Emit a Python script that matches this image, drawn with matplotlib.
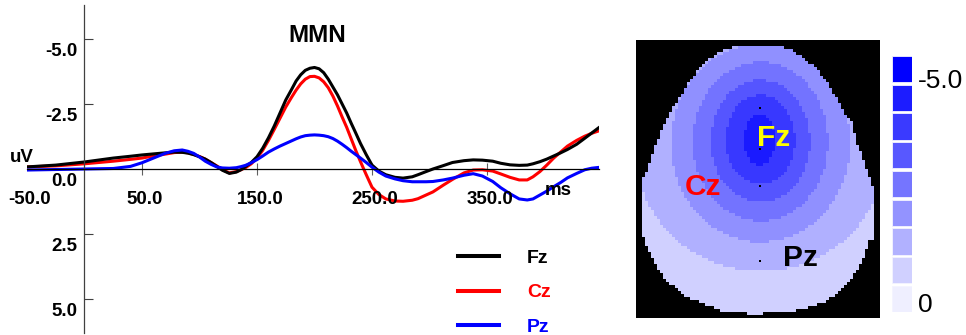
import numpy as np
import matplotlib
matplotlib.use("Agg")
import matplotlib.pyplot as plt
from matplotlib.path import Path
from matplotlib.colors import ListedColormap

plt.rcParams['font.family'] = ['Liberation Sans', 'DejaVu Sans']

# ---- ERP waveforms (uV, negative plotted up) ----
time_ms = [-50, -25, 0, 25, 40, 50, 60, 70, 78, 85, 90, 95, 100, 105, 110, 115,
           120, 126, 132, 136, 140, 145, 150, 155, 160, 165, 170, 175, 180, 184,
           188, 192, 196, 200, 204, 208, 212, 216, 220, 224, 228, 232, 236, 240,
           245, 250, 256, 262, 270, 277, 285, 290, 297, 303, 312, 320, 330, 338,
           346, 355, 362, 370, 378, 385, 390, 396, 402, 408, 414, 420, 428, 435,
           441, 447]
fz = [-0.08, -0.15, -0.27, -0.42, -0.49, -0.54, -0.58, -0.62, -0.65, -0.64, -0.61,
      -0.55, -0.47, -0.38, -0.25, -0.10, 0.05, 0.17, 0.12, 0.03, -0.09, -0.25,
      -0.47, -0.80, -1.20, -1.65, -2.15, -2.65, -3.05, -3.38, -3.62, -3.79, -3.87,
      -3.90, -3.85, -3.70, -3.45, -3.15, -2.85, -2.50, -2.15, -1.75, -1.37, -0.98,
      -0.55, -0.15, 0.08, 0.22, 0.32, 0.35, 0.30, 0.22, 0.10, 0.00, -0.13, -0.25,
      -0.32, -0.35, -0.34, -0.30, -0.22, -0.16, -0.14, -0.15, -0.20, -0.28, -0.38,
      -0.50, -0.62, -0.75, -0.95, -1.18, -1.38, -1.58]
cz = [-0.08, -0.12, -0.20, -0.30, -0.37, -0.42, -0.50, -0.57, -0.63, -0.65, -0.62,
      -0.56, -0.48, -0.38, -0.25, -0.12, 0.03, 0.15, 0.10, 0.03, -0.05, -0.20,
      -0.42, -0.72, -1.10, -1.52, -1.95, -2.38, -2.75, -3.03, -3.27, -3.45, -3.55,
      -3.56, -3.50, -3.35, -3.12, -2.80, -2.42, -2.00, -1.60, -1.15, -0.70, -0.28,
      0.22, 0.70, 0.98, 1.15, 1.23, 1.24, 1.20, 1.14, 1.00, 0.88, 0.62, 0.40,
      0.15, 0.04, 0.03, 0.08, 0.19, 0.32, 0.42, 0.42, 0.30, 0.10, -0.15,
      -0.42, -0.65, -0.88, -1.10, -1.26, -1.37, -1.46]
pz = [0.04, 0.02, 0.00, -0.02, -0.10, -0.24, -0.42, -0.60, -0.70, -0.73, -0.68,
      -0.60, -0.46, -0.30, -0.18, -0.08, -0.04, -0.03, -0.05, -0.09, -0.14, -0.24,
      -0.36, -0.50, -0.65, -0.77, -0.88, -0.98, -1.08, -1.16, -1.23, -1.28, -1.30,
      -1.31, -1.30, -1.28, -1.24, -1.17, -1.07, -0.95, -0.82, -0.68, -0.55, -0.42,
      -0.25, -0.07, 0.12, 0.27, 0.38, 0.45, 0.49, 0.49, 0.49, 0.48, 0.42, 0.35,
      0.24, 0.18, 0.27, 0.48, 0.72, 0.95, 1.15, 1.19, 1.15, 1.00, 0.85,
      0.68, 0.52, 0.34, 0.17, 0.03, -0.03, -0.06]
channels = ['Fz', 'Cz', 'Pz']
channel_colors = ['black', 'red', 'blue']

y_ticks = [-5.0, -2.5, 0.0, 2.5, 5.0]
y_labels = ['-5.0', '-2.5', '0.0', '2.5', '5.0']
x_ticks = [-50.0, 50.0, 150.0, 250.0, 350.0]
x_labels = ['-50.0', '50.0', '150.0', '250.0', '350.0']

# ---- scalp map (image pixel frame of the map panel) ----
head_x = [738, 777, 788, 795, 805, 815, 825, 832, 838, 843, 850, 855, 862, 867,
          872, 872, 868, 865, 860, 855, 848, 838, 825, 808, 792, 757, 723, 713,
          699, 686, 673, 663, 656, 649, 644, 642, 642, 644, 648, 649, 653, 658,
          661, 666, 672, 678, 683, 689, 698, 706, 718]
head_y = [46, 46, 49, 53, 60, 68, 80, 92, 102, 112, 120, 140, 157, 175,
          190, 240, 242, 253, 263, 273, 283, 293, 302, 308, 312, 315, 313, 308,
          303, 297, 287, 277, 267, 253, 240, 237, 190, 175, 170, 163, 153, 140,
          130, 120, 110, 100, 92, 82, 70, 62, 52]
# nested iso-potential rings, innermost first
ring_cx = [759, 760, 760, 760, 760, 760]
ring_cy = [140, 140, 141.5, 142, 143.5, 150]
ring_rx = [15, 34, 49, 67, 89, 125]
ring_ry = [25, 45, 61.5, 80, 99.5, 122]
map_colors = ['#1a1aff', '#3838ff', '#5555ff', '#7373ff', '#9090ff', '#b0b0ff', '#d0d0ff']

electrode_x = [760, 760, 760, 760]
electrode_y = [108, 149, 186, 261]
site_names = ['Fz', 'Cz', 'Pz']
site_x = [757, 685, 783]
site_y = [138, 187, 258]
site_colors = ['#ffff00', '#ff0000', 'black']

cbar_colors = ['#0000ff', '#1c1cff', '#3a3aff', '#5858ff', '#7575ff',
               '#9393ff', '#b1b1ff', '#d0d0ff', '#efefff']
cbar_labels = ['-5.0', '0']
cbar_label_index = [0, 8]

W, H = 966, 335
fig = plt.figure(figsize=(W / 100, H / 100), dpi=100)


def px_axes(x0, y0, x1, y1):
    return fig.add_axes([x0 / W, 1 - y1 / H, (x1 - x0) / W, (y1 - y0) / H])


# ---------------- ERP panel ----------------
ax = px_axes(27, 5, 599, 333)
series = {'Fz': fz, 'Cz': cz, 'Pz': pz}
handles = {}
for name in ['Cz', 'Fz', 'Pz']:
    c = channel_colors[channels.index(name)]
    handles[name], = ax.plot(time_ms, series[name], color=c, lw=2.2,
                             solid_joinstyle='round')
ax.set_xlim(-50, 447.4)
ax.set_ylim(6.3, -6.3)
ax.patch.set_alpha(0)
ax.spines['top'].set_visible(False)
ax.spines['right'].set_visible(False)
ax.spines['left'].set_position(('data', 0))
ax.spines['bottom'].set_position(('data', 0))
ax.spines['left'].set_color('#404040')
ax.spines['left'].set_linewidth(0.9)
ax.spines['bottom'].set_color('black')
ax.spines['bottom'].set_linewidth(0.9)
ax.set_yticks([v for v in y_ticks if v != 0])
ax.set_yticklabels([])
ax.tick_params(axis='y', direction='in', length=6.5, width=0.8, color='#404040')
ax.set_xticks([v for v in x_ticks if v > 0])
ax.set_xticklabels([])
ax.tick_params(axis='x', direction='inout', length=8, width=0.8, color='#606060')

bold = dict(fontsize=13.5, fontweight='bold', color='black')
for v, lbl in zip(y_ticks, y_labels):
    ax.annotate(lbl, (0, v), xytext=(-5, -12), textcoords='offset points',
                ha='right', va='baseline', annotation_clip=False, **bold)
for v, lbl in zip(x_ticks, x_labels):
    ax.annotate(lbl, (v, 0), xytext=(2.2, -25.2), textcoords='offset points',
                ha='center', va='baseline', annotation_clip=False, **bold)
ax.annotate('uV', (0, 0), xytext=(-53.6, 5), textcoords='offset points',
            ha='left', va='baseline', annotation_clip=False, **bold)
ax.annotate('ms', (400, 0), xytext=(0, -18.7), textcoords='offset points',
            ha='left', va='baseline', annotation_clip=False, **bold)
ax.text(202, -4.88, 'MMN', ha='center', va='baseline', fontsize=17.5, fontweight='bold')

leg = ax.legend([handles[n] for n in channels], channels, loc='upper left',
                bbox_to_anchor=(458 / W, 1 - 249.5 / H), bbox_transform=fig.transFigure,
                frameon=False, borderpad=0, borderaxespad=0, handlelength=2.1,
                handletextpad=1.45, labelspacing=0.86,
                prop=dict(size=14, weight='bold'))
for txt, c in zip(leg.get_texts(), channel_colors):
    txt.set_color(c)
for ln in leg.get_lines():
    ln.set_linewidth(2.9)

# ---------------- scalp map ----------------
axm = px_axes(636, 40, 880, 318)
gx = np.arange(636 + 1.5, 880, 3)
gy = np.arange(40 + 1.5, 318, 3)
GX, GY = np.meshgrid(gx, gy)
level = np.full(GX.shape, len(ring_rx), dtype=float)
for k in reversed(range(len(ring_rx))):
    inside = ((GX - ring_cx[k]) / ring_rx[k]) ** 2 + ((GY - ring_cy[k]) / ring_ry[k]) ** 2 <= 1
    level[inside] = k
head = Path(np.column_stack([head_x, head_y]))
in_head = head.contains_points(np.column_stack([GX.ravel(), GY.ravel()])).reshape(GX.shape)
level = np.ma.masked_where(~in_head, level)
cmap = ListedColormap(map_colors)
cmap.set_bad('black')
axm.imshow(level, cmap=cmap, vmin=-0.5, vmax=len(map_colors) - 0.5,
           extent=(636, 880, 318, 40), interpolation='nearest', aspect='auto')
axm.scatter(electrode_x, electrode_y, s=4, marker='s', color='black', lw=0)
for name, x, y, c in zip(site_names, site_x, site_y, site_colors):
    axm.text(x, y, name, color=c, fontsize=21.5, fontweight='bold', ha='left', va='center')
axm.set_xlim(636, 880)
axm.set_ylim(318, 40)
axm.set_axis_off()

# ---------------- colour key ----------------
axc = px_axes(892, 56, 912, 312)
axc.barh(range(len(cbar_colors)), 1, height=0.905, left=0, color=cbar_colors,
         edgecolor='#f4f4ff', linewidth=0.6)
axc.set_xlim(0, 1)
axc.set_ylim(len(cbar_colors) - 1 + 0.4525, -0.4525)
axc.set_axis_off()
for lbl, i, dy in zip(cbar_labels, cbar_label_index, [-14, -9.7]):
    axc.annotate(lbl, (1, i), xytext=(4.3, dy), textcoords='offset points',
                 ha='left', va='baseline', fontsize=19, annotation_clip=False)

fig.savefig('out.png', dpi=100)
